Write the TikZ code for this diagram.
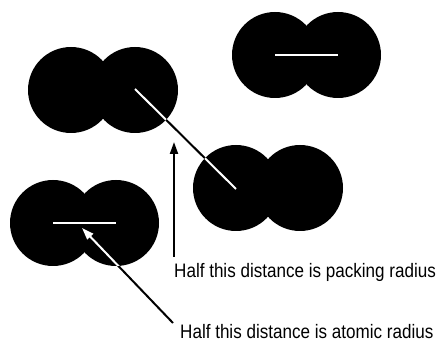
\documentclass[tikz,border=0pt]{standalone}
\usepackage{fontspec}
\setmainfont{Liberation Sans}[FakeStretch=0.875]
\usetikzlibrary{arrows.meta,calc}
\begin{document}
\begin{tikzpicture}[x=1pt,y=-1pt,
  atom/.style={fill=black},
  bond/.style={line width=2pt},
  lbl/.style={anchor=base west,inner sep=0pt,font=\fontsize{19.5}{21}\selectfont},
  arr/.style={line width=2pt,-{Triangle[width=8pt,length=12pt]}}]
\useasboundingbox (0,0) rectangle (437,342);
% atom centres
\coordinate (a1) at (71,90);  \coordinate (a2) at (135,90);
\coordinate (b1) at (275,55); \coordinate (b2) at (338,55);
\coordinate (c1) at (236,188);\coordinate (c2) at (300,188);
\coordinate (d1) at (53,223); \coordinate (d2) at (116,223);
\def\R{43pt}
\foreach \c in {a1,a2,b1,b2,c1,c2,d1,d2}
  \fill[atom] (\c) circle[radius=\R];
% labels
\node[lbl] (t1) at (174,277) {Half this distance is packing radius};
\node[lbl] (t2) at (180,338) {Half this distance is atomic radius};
% arrow ends
\coordinate (p1) at (a2|-0,89);
\coordinate (p2) at (c1|-0,189);
\coordinate (ptail) at (174,257);
\coordinate (ptip) at (174,142);
\coordinate (atail) at (173,323);
\coordinate (atip) at (82,228);
% black parts
\draw[bond] (p1) -- (p2);
\draw[arr] (ptail) -- (ptip);
\draw[arr] (atail) -- (atip);
% white parts inside atoms
\begin{scope}
  \clip (a1) circle[radius=\R] (a2) circle[radius=\R]
        (b1) circle[radius=\R] (b2) circle[radius=\R]
        (c1) circle[radius=\R] (c2) circle[radius=\R]
        (d1) circle[radius=\R] (d2) circle[radius=\R];
  \draw[bond,white] (p1) -- (p2);
  \draw[arr,white] (atail) -- (atip);
  \draw[white,line width=1.3pt] (b1) -- (b2);
  \draw[white,line width=1.3pt] (d1) -- (d2);
\end{scope}
\end{tikzpicture}
\end{document}
